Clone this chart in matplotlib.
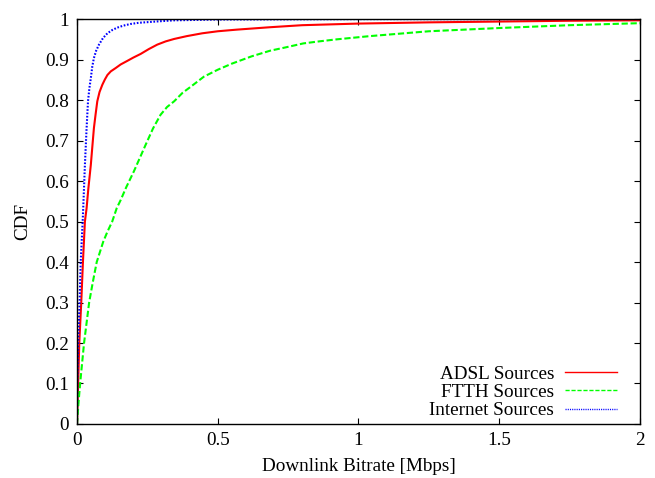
import numpy as np
import matplotlib
matplotlib.use('Agg')
import matplotlib.pyplot as plt
from matplotlib.ticker import FuncFormatter

# 数据（从图中读取的 CDF 点）
adsl_x = [0, 0.004, 0.008, 0.015, 0.021, 0.028, 0.034, 0.040, 0.049, 0.055, 0.060, 0.066,
          0.072, 0.080, 0.090, 0.099, 0.108, 0.120, 0.137, 0.155, 0.179, 0.200, 0.226, 0.255,
          0.285, 0.315, 0.345, 0.390, 0.445, 0.500, 0.567, 0.686, 0.80, 1.0, 1.25, 1.5, 1.75, 2.0]
adsl_y = [0, 0.1, 0.2, 0.3, 0.4, 0.5, 0.533, 0.58, 0.64, 0.69, 0.731, 0.765,
          0.797, 0.82, 0.838, 0.851, 0.862, 0.871, 0.879, 0.888, 0.897, 0.905, 0.914, 0.926,
          0.937, 0.945, 0.951, 0.958, 0.965, 0.970, 0.974, 0.980, 0.985, 0.989, 0.992, 0.994, 0.996, 0.997]

ftth_x = [0, 0.005, 0.011, 0.018, 0.025, 0.034, 0.043, 0.056, 0.070, 0.093, 0.108, 0.125,
          0.141, 0.155, 0.175, 0.202, 0.244, 0.270, 0.297, 0.320, 0.345, 0.375, 0.404, 0.451,
          0.50, 0.55, 0.62, 0.686, 0.74, 0.804, 0.86, 0.922, 1.04, 1.25, 1.5, 1.75, 2.0]
ftth_y = [0, 0.05, 0.1, 0.15, 0.2, 0.25, 0.3, 0.35, 0.4, 0.45, 0.475, 0.5,
          0.533, 0.553, 0.585, 0.624, 0.69, 0.73, 0.764, 0.783, 0.797, 0.818, 0.833, 0.858,
          0.875, 0.89, 0.908, 0.922, 0.93, 0.94, 0.945, 0.95, 0.958, 0.97, 0.978, 0.985, 0.99]

inet_x = [0, 0.001, 0.004, 0.009, 0.013, 0.020, 0.022, 0.028, 0.034, 0.039, 0.044, 0.049,
          0.054, 0.060, 0.068, 0.078, 0.092, 0.108, 0.125, 0.143, 0.165, 0.19, 0.22, 0.26,
          0.30, 0.345, 0.42, 0.5, 1.0, 2.0]
inet_y = [0, 0.1, 0.2, 0.3, 0.4, 0.5, 0.533, 0.64, 0.731, 0.797, 0.83, 0.854,
          0.882, 0.904, 0.922, 0.937, 0.953, 0.965, 0.973, 0.979, 0.984, 0.988, 0.991, 0.993,
          0.995, 0.997, 0.998, 0.999, 1.0, 1.0]

plt.rcParams['font.family'] = ['Liberation Serif', 'DejaVu Serif']
plt.rcParams['font.size'] = 13.8

fig = plt.figure(figsize=(6.55, 4.78), dpi=100)
ax = fig.add_axes([0.1176, 0.113, 0.977 - 0.1176, 0.960 - 0.113])

ax.plot(adsl_x, adsl_y, color='#ff0000', lw=1.5, linestyle='-', label='ADSL Sources')
ax.plot(ftth_x, ftth_y, color='#00ff00', lw=1.5, linestyle=(0, (3.0, 1.3)), label='FTTH Sources')
ax.plot(inet_x, inet_y, color='#0000ff', lw=1.5, linestyle=(0, (0.8, 0.8)), label='Internet Sources')

ax.set_xlim(0, 2)
ax.set_ylim(0, 1)
ax.set_xticks([0, 0.5, 1, 1.5, 2])
ax.set_yticks(np.round(np.arange(0, 1.01, 0.1), 1))
fmt = FuncFormatter(lambda v, p: f'{v:g}')
ax.xaxis.set_major_formatter(fmt)
ax.yaxis.set_major_formatter(fmt)
ax.tick_params(direction='in', top=True, right=True, length=4, width=0.8, pad=6)
for s in ax.spines.values():
    s.set_linewidth(1.0)

ax.set_xlabel('Downlink Bitrate [Mbps]', labelpad=6)
ax.set_ylabel('CDF', labelpad=10)

leg = ax.legend(loc='lower right', bbox_to_anchor=(0.977, -0.012), frameon=False,
                markerfirst=False, borderpad=0, handlelength=2.75, handletextpad=0.55,
                labelspacing=0.05, fontsize=13.8)
for line in leg.get_lines():
    line.set_linewidth(1.0)

fig.savefig('out.png', dpi=100)
